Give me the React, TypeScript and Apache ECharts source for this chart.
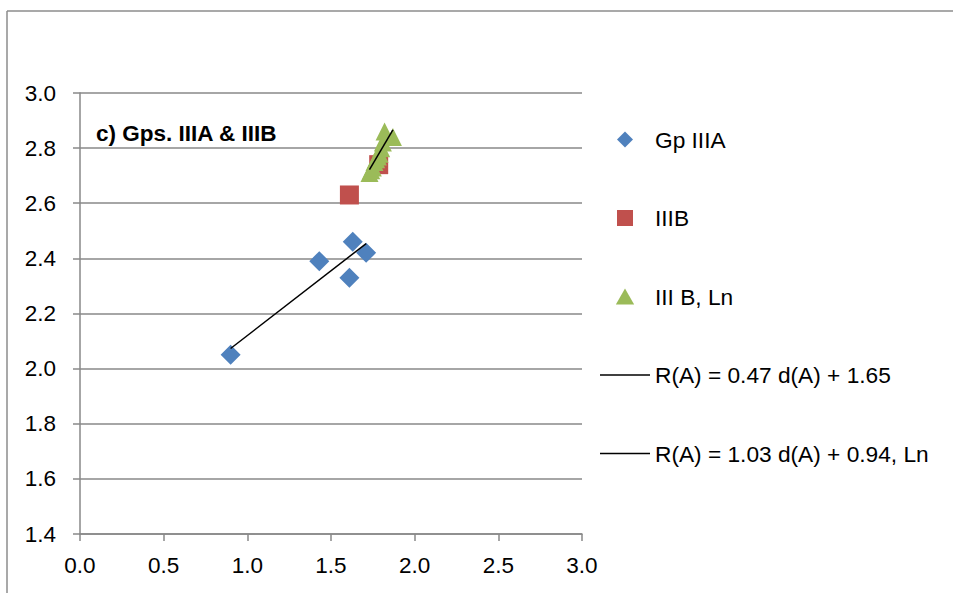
import React, { useEffect, useRef } from "react";
import * as echarts from "echarts";

// d(A) on x, R(A) on y
const gp3aX = [0.9, 1.43, 1.63, 1.71, 1.61];
const gp3aY = [2.05, 2.39, 2.46, 2.42, 2.33];

const gp3bX = [1.61, 1.785];
const gp3bY = [2.63, 2.74];

const lnX = [1.73, 1.74, 1.75, 1.76, 1.77, 1.78, 1.79, 1.8, 1.81, 1.82, 1.83, 1.87];
const lnY = [2.71, 2.72, 2.73, 2.75, 2.76, 2.77, 2.78, 2.8, 2.82, 2.86, 2.84, 2.84];

// Linear fits: slope, intercept
const fitA = [0.47, 1.65];
const fitLn = [1.03, 0.94];

const xTicks = [0, 0.5, 1.0, 1.5, 2.0, 2.5, 3.0];
const yTicks = [1.4, 1.6, 1.8, 2.0, 2.2, 2.4, 2.6, 2.8, 3.0];

const seriesNames = [
  "Gp IIIA",
  "IIIB",
  "III B, Ln",
  "R(A) = 0.47 d(A) + 1.65",
  "R(A) = 1.03 d(A) + 0.94, Ln",
];

const FONT = "'Liberation Sans', Arial, sans-serif";
const GRID_COLOR = "#888888";

// Legend icons as paths so that their aspect ratio is kept
const ICON_DIAMOND = "path://M8,0 L16,8 L8,16 L0,8 Z";
const ICON_SQUARE = "path://M0,0 L16,0 L16,16 L0,16 Z";
const ICON_TRIANGLE = "path://M8,0 L16,14 L0,14 Z";
const ICON_LINE = "path://M0,0 L50,0 L50,1.5 L0,1.5 Z";

const pairs = (xs: number[], ys: number[]) => xs.map((x, i) => [x, ys[i]]);
const fitLine = (xs: number[], fit: number[]) => {
  const lo = Math.min(...xs);
  const hi = Math.max(...xs);
  return [
    [lo, fit[0] * lo + fit[1]],
    [hi, fit[0] * hi + fit[1]],
  ];
};

export default function App() {
  const ref = useRef<HTMLDivElement>(null);

  useEffect(() => {
    if (!ref.current) return;
    const chart = echarts.init(ref.current, undefined, { renderer: "svg" });
    chart.setOption({
      animation: false,
      backgroundColor: "#ffffff",
      textStyle: { fontFamily: FONT },
      grid: { left: 80, right: 371, top: 93, bottom: 59 },
      xAxis: {
        type: "value",
        min: xTicks[0],
        max: xTicks[xTicks.length - 1],
        interval: 0.5,
        axisLine: { show: true, onZero: false, lineStyle: { color: GRID_COLOR, width: 1.5 } },
        axisTick: { show: true, length: 7, lineStyle: { color: GRID_COLOR, width: 1.5 } },
        axisLabel: {
          margin: 20,
          fontSize: 22.5,
          color: "#000",
          fontFamily: FONT,
          formatter: (v: number) => v.toFixed(1),
        },
        splitLine: { show: false },
      },
      yAxis: {
        type: "value",
        min: yTicks[0],
        max: yTicks[yTicks.length - 1],
        interval: 0.2,
        axisLine: { show: true, onZero: false, lineStyle: { color: GRID_COLOR, width: 1.5 } },
        axisTick: { show: true, length: 7, lineStyle: { color: GRID_COLOR, width: 1.5 } },
        axisLabel: {
          margin: 24,
          fontSize: 22.5,
          color: "#000",
          fontFamily: FONT,
          formatter: (v: number) => v.toFixed(1),
        },
        splitLine: { show: true, lineStyle: { color: GRID_COLOR, width: 1.5 } },
      },
      legend: {
        orient: "vertical",
        left: 600,
        top: 128,
        padding: 0,
        itemWidth: 50,
        itemHeight: 16,
        itemGap: 55.5,
        symbolKeepAspect: true,
        selectedMode: false,
        textStyle: { fontSize: 22.7, color: "#000", fontFamily: FONT },
        data: [
          { name: seriesNames[0], icon: ICON_DIAMOND },
          { name: seriesNames[1], icon: ICON_SQUARE },
          { name: seriesNames[2], icon: ICON_TRIANGLE },
          { name: seriesNames[3], icon: ICON_LINE },
          { name: seriesNames[4], icon: ICON_LINE },
        ],
      },
      graphic: [
        {
          type: "line",
          shape: { x1: 7, y1: 11, x2: 7, y2: 593 },
          style: { stroke: "#8c8c8c", lineWidth: 1.5 },
          silent: true,
        },
        {
          type: "line",
          shape: { x1: 7, y1: 11, x2: 953, y2: 11 },
          style: { stroke: "#8c8c8c", lineWidth: 1.5 },
          silent: true,
        },
        {
          type: "text",
          left: 96,
          top: 122,
          style: {
            text: "c) Gps. IIIA & IIIB",
            fontFamily: FONT,
            fontSize: 22.5,
            fontWeight: "bold",
            fill: "#000",
          },
          silent: true,
        },
      ],
      series: [
        {
          name: seriesNames[0],
          type: "scatter",
          symbol: "diamond",
          symbolSize: 20,
          itemStyle: { color: "#4F81BD", opacity: 1 },
          data: pairs(gp3aX, gp3aY),
          z: 2,
        },
        {
          name: seriesNames[1],
          type: "scatter",
          symbol: "rect",
          symbolSize: 19,
          itemStyle: { color: "#C0504D", opacity: 1 },
          data: pairs(gp3bX, gp3bY),
          z: 3,
        },
        {
          name: seriesNames[2],
          type: "scatter",
          symbol: "triangle",
          symbolSize: 18,
          itemStyle: { color: "#9BBB59", opacity: 1 },
          data: pairs(lnX, lnY),
          z: 4,
        },
        {
          name: seriesNames[3],
          type: "line",
          symbol: "none",
          lineStyle: { color: "#000", width: 1.5 },
          itemStyle: { color: "#000" },
          data: fitLine(gp3aX, fitA),
          z: 5,
        },
        {
          name: seriesNames[4],
          type: "line",
          symbol: "none",
          lineStyle: { color: "#000", width: 1.5 },
          itemStyle: { color: "#000" },
          data: fitLine(lnX, fitLn),
          z: 5,
        },
      ],
    });
    return () => chart.dispose();
  }, []);

  return (
    <div
      ref={ref}
      style={{ position: "fixed", left: 0, top: 0, width: 953, height: 593 }}
    />
  );
}
